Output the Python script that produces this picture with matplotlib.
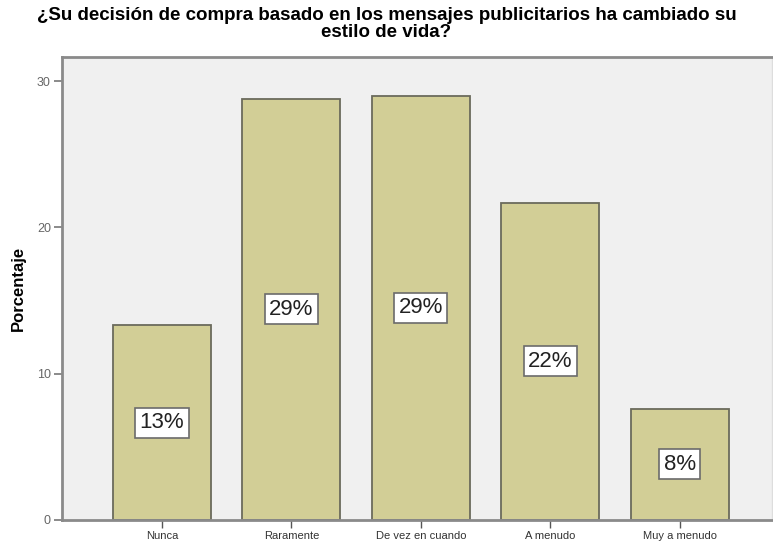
import matplotlib.pyplot as plt

plt.rcParams['font.family'] = ['Liberation Sans', 'DejaVu Sans']

categorias = ['Nunca', 'Raramente', 'De vez en cuando', 'A menudo', 'Muy a menudo']
porcentajes = [13.3, 28.8, 29.0, 21.7, 7.6]
etiquetas = ['13%', '29%', '29%', '22%', '8%']
titulo = ['¿Su decisión de compra basado en los mensajes publicitarios ha cambiado su',
          'estilo de vida?']

fig = plt.figure(figsize=(7.73, 5.42), dpi=100)
ax = fig.add_axes([0.0802, 0.0406, 0.9185, 0.8542])
ax.set_facecolor('#f0f0f0')

x = range(len(categorias))
ax.bar(x, porcentajes, width=0.757, color='#d2ce96', edgecolor='#6b6b5c', linewidth=1.3, zorder=2)

for i, (v, t) in enumerate(zip(porcentajes, etiquetas)):
    ax.text(i, v / 2, t, ha='center', va='center', fontsize=16, color='#222222', zorder=3,
            bbox=dict(boxstyle='square,pad=0.2', facecolor='white', edgecolor='#6b6b6b', linewidth=1.2))

ax.set_xlim(-0.773, 4.714)
ax.set_ylim(0, 31.65)
ax.set_yticks([0, 10, 20, 30])
ax.set_xticks(list(x))
ax.set_xticklabels(categorias, fontsize=8, color='#333333')
ax.tick_params(axis='y', labelsize=9, labelcolor='#666666', color='#777777', length=6, width=1.2, pad=2)
ax.tick_params(axis='x', color='#555555', length=6, width=1, pad=2)

for s in ['left', 'bottom', 'top']:
    ax.spines[s].set_color('#8a8a8a')
    ax.spines[s].set_linewidth(2)
ax.spines['right'].set_color('#dddddd')
ax.spines['right'].set_linewidth(1)

ax.set_ylabel('Porcentaje', fontsize=12, fontweight='bold', labelpad=8)

fig.text(0.5, 1 - 20 / 542, titulo[0], ha='center', va='baseline', fontsize=13.5, fontweight='bold')
fig.text(0.5, 1 - 37 / 542, titulo[1], ha='center', va='baseline', fontsize=13.5, fontweight='bold')

fig.savefig('out.png', dpi=100, facecolor='white')
